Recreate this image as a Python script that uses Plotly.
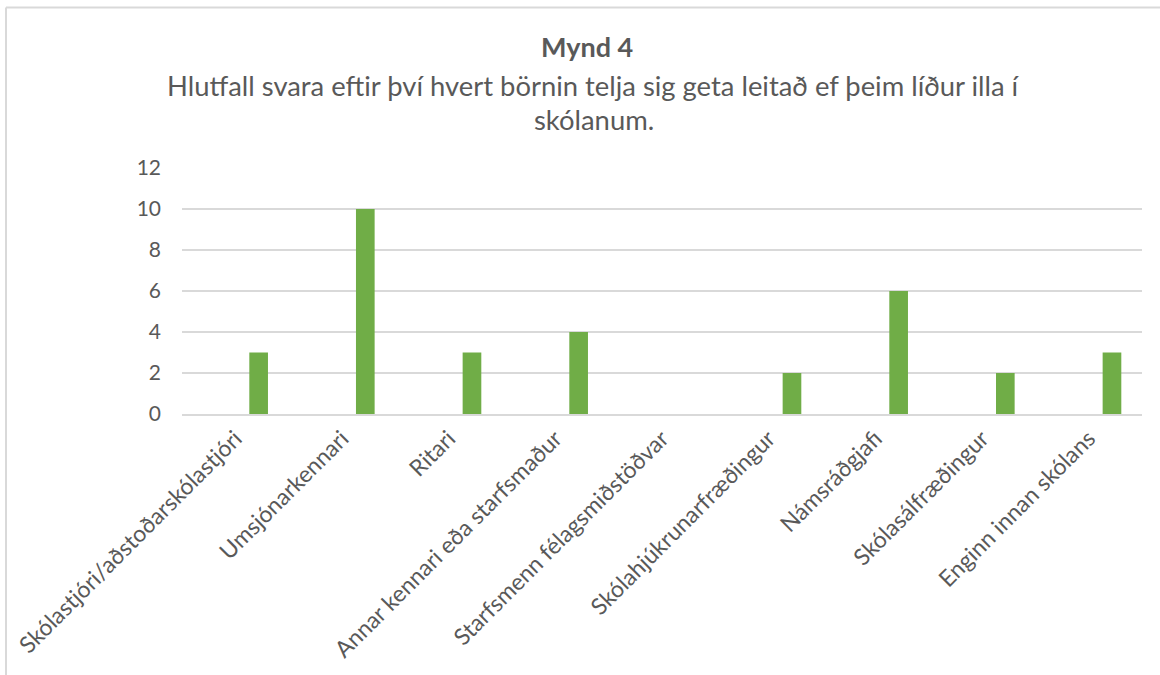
import plotly.graph_objects as go

categories = [
    "Skólastjóri/aðstoðarskólastjóri",
    "Umsjónarkennari",
    "Ritari",
    "Annar kennari eða starfsmaður",
    "Starfsmenn félagsmiðstöðvar",
    "Skólahjúkrunarfræðingur",
    "Námsráðgjafi",
    "Skólasálfræðingur",
    "Enginn innan skólans",
]
values = [3, 10, 3, 4, 0, 2, 6, 2, 3]
y_ticks = [0, 2, 4, 6, 8, 10, 12]

title_main = "Mynd 4"
title_line1 = "Hlutfall svara eftir því hvert börnin telja sig geta leitað ef þeim líður illa í"
title_line2 = "skólanum."

W, H = 1160, 675
L, R, T, B = 182, 18, 168, 261
pw = W - L - R
ph = H - T - B

def px(x):
    return (x - L) / pw

def py(y):
    return 1 - (y - T) / ph

FONT = "Lato"
TXT = "#595959"

fig = go.Figure()
fig.add_trace(go.Bar(
    x=categories, y=values,
    marker=dict(color="#70AD47", line=dict(width=0)),
    width=0.175, offset=0.131,
    hoverinfo="x+y",
))

fig.update_layout(
    width=W, height=H,
    margin=dict(l=L, r=R, t=T, b=B, pad=0),
    paper_bgcolor="white", plot_bgcolor="white",
    showlegend=False,
    font=dict(family=FONT, color=TXT),
    xaxis=dict(
        type="category", tickangle=-45, showgrid=False,
        tickfont=dict(size=23, color=TXT, family=FONT),
        showline=True, linecolor="#D9D9D9", linewidth=2,
        ticks="", ticklen=0,
    ),
    yaxis=dict(
        range=[0, 12], tickvals=y_ticks, showgrid=True,
        gridcolor="#D9D9D9", gridwidth=1.5,
        zeroline=False, showline=False, ticks="",
        tickfont=dict(size=21, color=TXT, family=FONT),
        ticklabelstandoff=20,
    ),
)

fig.add_annotation(text="<b>" + title_main + "</b>", xref="paper", yref="paper",
                   x=px(587), y=py(46), showarrow=False,
                   font=dict(size=27, color=TXT, family=FONT), xanchor="center", yanchor="middle")
fig.add_annotation(text=title_line1, xref="paper", yref="paper",
                   x=px(593), y=py(85), showarrow=False,
                   font=dict(size=27.4, color=TXT, family=FONT), xanchor="center", yanchor="middle")
fig.add_annotation(text=title_line2, xref="paper", yref="paper",
                   x=px(594), y=py(119), showarrow=False,
                   font=dict(size=27.4, color=TXT, family=FONT), xanchor="center", yanchor="middle")

# chart frame (left and top border)
fig.add_shape(type="line", xref="paper", yref="paper",
              x0=px(6), y0=py(H + 5), x1=px(6), y1=py(7.5),
              line=dict(color="#D9D9D9", width=2))
fig.add_shape(type="line", xref="paper", yref="paper",
              x0=px(6), y0=py(7.5), x1=px(W + 5), y1=py(7.5),
              line=dict(color="#D9D9D9", width=2))

fig.write_html("out.html", config={"displayModeBar": False},
               post_script="document.body.style.margin='0';document.body.style.overflow='hidden';")
